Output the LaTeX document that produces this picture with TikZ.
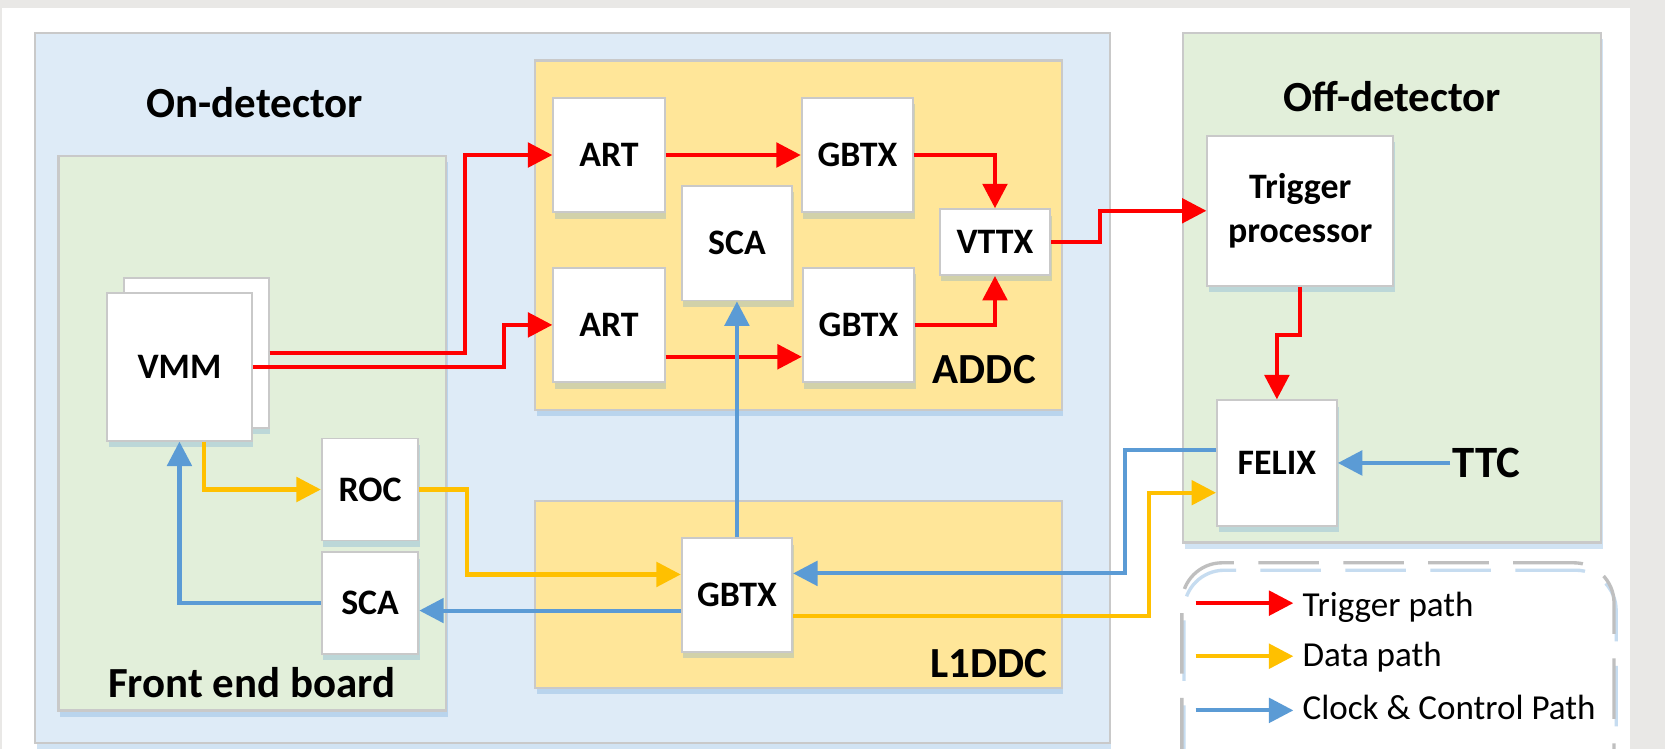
\documentclass[tikz,border=0pt]{standalone}
\usepackage{fontspec}
\setmainfont{Carlito}
\usetikzlibrary{arrows.meta,calc,shadows}
\definecolor{trigred}{HTML}{FF0000}
\definecolor{datayel}{HTML}{FFC000}
\definecolor{ctrlblue}{HTML}{5B9BD5}
\definecolor{onfill}{HTML}{DEEBF7}
\definecolor{grnfill}{HTML}{E2EFDA}
\definecolor{yelfill}{HTML}{FFE699}
\definecolor{edgegrey}{HTML}{C9C9C9}
\definecolor{legrey}{HTML}{BFBFBF}
\definecolor{pagegrey}{HTML}{E9E8E6}
\tikzset{
  flow/.style={line width=1.1pt,-{Triangle[length=2.3mm,width=2.3mm]}},
  trig/.style={flow,draw=trigred},
  dat/.style={flow,draw=datayel},
  ctl/.style={flow,draw=ctrlblue},
  shd/.style={general shadow={fill=ctrlblue,fill opacity=0.28,shadow xshift=0.15mm,shadow yshift=-0.6mm}},
}

\begin{document}
\begin{tikzpicture}[
   grp/.style={draw=edgegrey,line width=0.6pt,inner sep=0pt,shd},
   blk/.style={draw=edgegrey,line width=0.5pt,fill=white,inner sep=0pt,shd,align=center,
     font=\bfseries\fontsize{9.6}{11.7}\selectfont},
   head/.style={font=\bfseries\fontsize{11.5}{13}\selectfont},
   legbox/.style={draw=legrey,line width=0.9pt,dash pattern=on 5.7mm off 2.3mm,rounded corners=3.8mm,
     preaction={draw=ctrlblue!35,line width=0.9pt,dash pattern=on 5.7mm off 2.3mm,
       transform canvas={shift={(0.2mm,-0.7mm)}}}},
   legtxt/.style={anchor=base west,inner xsep=0.8mm,font=\fontsize{9.4}{11}\selectfont}]
  \fill[pagegrey] (0,0) rectangle (15.68,-7.05);
  \fill[white] (0.02,-0.075) rectangle (15.35,-7.05);
  \useasboundingbox (0,0) rectangle (15.68,-7.05);

  \node[grp,fill=onfill,minimum width=10.12cm,minimum height=6.69cm] (ondet) at (5.39,-3.655) {};
  \node[grp,fill=grnfill,minimum width=3.65cm,minimum height=5.22cm] (feb) at (2.375,-4.08) {};
  \node[grp,fill=yelfill,minimum width=4.96cm,minimum height=3.29cm] (addc) at (7.52,-2.215) {};
  \node[grp,fill=yelfill,minimum width=4.96cm,minimum height=1.76cm] (l1ddc) at (7.52,-5.60) {};
  \node[grp,fill=grnfill,minimum width=3.94cm,minimum height=4.80cm] (offdet) at (13.11,-2.71) {};
  \node[head] (ontxt) at (2.40,-0.97) {On-detector};
  \node[head] (febtxt) at (2.37,-6.43) {Front end board};
  \node[head] (addctxt) at (9.27,-3.48) {ADDC};
  \node[head] (l1txt) at (9.31,-6.25) {L1DDC};
  \node[head] (offtxt) at (13.11,-0.91) {Off-detector};

  \node[blk,minimum width=1.36cm,minimum height=1.41cm] (vmmb) at (1.85,-3.325) {};
  \node[blk,minimum width=1.36cm,minimum height=1.39cm] (vmm) at (1.69,-3.455) {VMM};
  \node[blk,minimum width=0.91cm,minimum height=0.96cm] (roc) at (3.485,-4.61) {ROC};
  \node[blk,minimum width=0.91cm,minimum height=0.96cm] (scaf) at (3.485,-5.68) {SCA};
  \node[blk,minimum width=1.05cm,minimum height=1.08cm] (art1) at (5.735,-1.46) {ART};
  \node[blk,minimum width=1.05cm,minimum height=1.08cm] (gbtx1) at (8.075,-1.46) {GBTX};
  \node[blk,minimum width=1.04cm,minimum height=1.08cm] (sca) at (6.94,-2.29) {SCA};
  \node[blk,minimum width=1.05cm,minimum height=1.08cm] (art2) at (5.735,-3.06) {ART};
  \node[blk,minimum width=1.05cm,minimum height=1.08cm] (gbtx2) at (8.085,-3.06) {GBTX};
  \node[blk,minimum width=1.04cm,minimum height=0.62cm] (vttx) at (9.37,-2.28) {VTTX};
  \node[blk,minimum width=1.04cm,minimum height=1.07cm] (gbtx3) at (6.94,-5.605) {GBTX};
  \node[blk,minimum width=1.75cm,minimum height=1.41cm] (tp) at (12.245,-1.985) {Trigger\\processor};
  \node[blk,minimum width=1.13cm,minimum height=1.18cm] (felix) at (12.025,-4.36) {FELIX};
  \node[head,font=\bfseries\fontsize{12}{14}\selectfont,inner sep=0.5pt] (ttc) at (14.00,-4.36) {TTC};

  \draw[trig] (vmmb.east) -- ++(1.84,0) |- (art1.west);
  \draw[trig] (vmm.east) -- ++(2.37,0) |- (art2.west);
  \draw[trig] (art1.east) -- (gbtx1.west);
  \draw[trig] ([yshift=-0.3cm]art2.east) -- ([yshift=-0.3cm]art2.east -| gbtx2.west);
  \draw[trig] (gbtx1.east) -| (vttx.north);
  \draw[trig] (gbtx2.east) -| (vttx.south);
  \draw[trig] (vttx.east) -- ++(0.46,0) |- (tp.west);
  \draw[trig] (tp.south) -- ++(0,-0.46) -| (felix.north);

  \draw[dat] ([xshift=0.23cm]vmm.south) |- (roc.west);
  \draw[dat] (roc.east) -- ++(0.45,0) |- ([yshift=0.195cm]gbtx3.west);
  \draw[dat] ([yshift=-0.195cm]gbtx3.east) -- ++(3.35,0) |- ([yshift=-0.28cm]felix.west);

  \draw[ctl] ([yshift=0.12cm]felix.west) -- ++(-0.86,0) |- ([yshift=0.205cm]gbtx3.east);
  \draw[ctl] ([yshift=-0.145cm]gbtx3.west) -- ([yshift=-0.145cm]gbtx3.west -| scaf.east);
  \draw[ctl] (scaf.west) -| (vmm.south);
  \draw[ctl] (gbtx3.north) -- (sca.south);
  \draw[ctl] (ttc.west) -- (felix.east);

  \node[legbox,minimum width=4.07cm,minimum height=2.30cm] (leg) at (13.165,-6.45) {};
  \coordinate (lg1) at (11.26,-5.68);
  \coordinate (lg2) at (11.26,-6.18);
  \coordinate (lg3) at (11.26,-6.69);
  \node[legtxt] (lt1) at (12.18,-5.81) {Trigger path};
  \node[legtxt] (lt2) at (12.18,-6.28) {Data path};
  \node[legtxt] (lt3) at (12.18,-6.78) {Clock \& Control Path};
  \draw[trig] (lg1) -- (lg1 -| lt1.west);
  \draw[dat] (lg2) -- (lg2 -| lt2.west);
  \draw[ctl] (lg3) -- (lg3 -| lt3.west);
\end{tikzpicture}
\end{document}
